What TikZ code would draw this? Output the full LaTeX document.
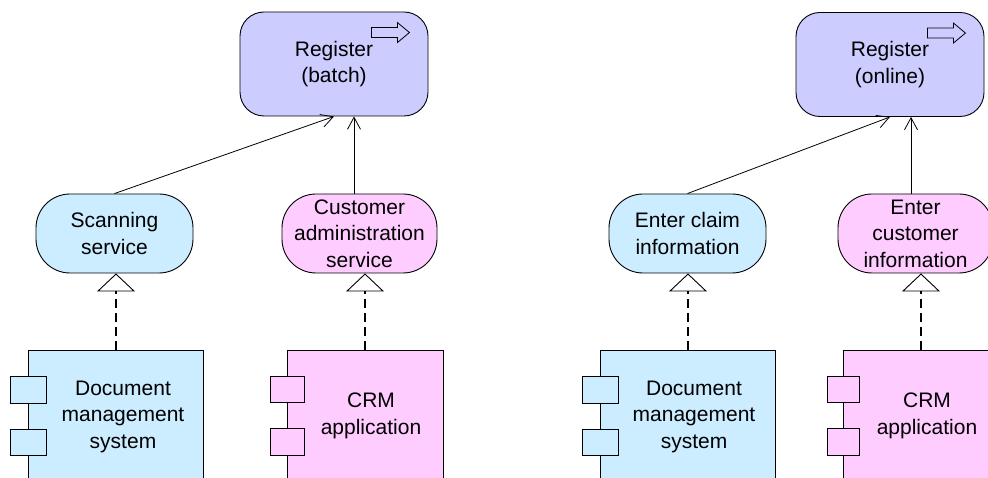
\documentclass[tikz,border=0pt]{standalone}
\usepackage{fontspec}
\setmainfont{Liberation Sans}
\usetikzlibrary{arrows.meta}
\definecolor{procfill}{HTML}{CCCCFF}
\definecolor{appblue}{HTML}{CCECFF}
\definecolor{apppink}{HTML}{FFCCFF}

\begin{document}
\begin{tikzpicture}[x=1pt,y=-1pt,
  every node/.style={font=\fontsize{21}{26.5}\selectfont, align=center, inner sep=0pt},
  process/.style={draw, line width=0.9pt, fill=procfill, rounded corners=24pt,
    minimum width=188pt, minimum height=104pt},
  service/.style={draw, line width=0.9pt, rounded corners=34pt,
    minimum width=157pt, minimum height=79pt},
  component/.style={draw, line width=0.9pt, minimum width=#1, minimum height=134pt},
  port/.style={draw, line width=0.9pt, minimum width=#1, minimum height=26.5pt},
  port/.default=36pt,
  used/.style={-{Straight Barb[length=12pt,width=13pt,line width=0.8pt]}, line width=0.8pt},
  realizes/.style={line width=1.8pt, dash pattern=on 9pt off 5pt,
    -{Triangle[length=18pt,width=38pt,line width=0.9pt,fill=white]}},
  procicon/.style={line width=0.8pt, line join=miter},
]
\useasboundingbox (0,0) rectangle (988,478);
\clip (0,0) rectangle (988,478);
\fill[white] (0,0) rectangle (988,478);

% business processes
\node[process] (reg1) at (334,64) {Register\\(batch)};
\node[process] (reg2) at (890,64.5) {Register\\(online)};
\foreach \r in {reg1,reg2}
  \draw[procicon, shift={(\r.north east)}]
    (-57,16) -- (-31,16) -- (-31,11) -- (-19,21) -- (-31,31) -- (-31,26) -- (-57,26) -- cycle;

% application services
\node[service, fill=appblue] (scan) at (114.5,233.5) {Scanning\\service};
\node[service, fill=apppink, minimum width=155pt] (cust) at (359.5,233.5) {Customer\\administration\\service};
\node[service, fill=appblue] (claim) at (687.5,233.5) {Enter claim\\information};
\node[service, fill=apppink, minimum width=155pt] (ecust) at (915.5,233.5) {Enter\\customer\\information};

% application components
\node[component=175pt, fill=appblue] (dms1) at (116,417) {};
\node[port, fill=appblue] (dms1a) at (28.5,390) {};
\node[port, fill=appblue] (dms1b) at (28.5,442.5) {};
\node (dms1t) at (123,416.5) {Document\\management\\system};

\node[component=156pt, fill=apppink] (crm1) at (365,417) {};
\node[port=34pt, fill=apppink] (crm1a) at (287,389.5) {};
\node[port=34pt, fill=apppink] (crm1b) at (287,442) {};
\node (crm1t) at (371,416) {CRM\\application};

\node[component=175pt, fill=appblue] (dms2) at (688,417) {};
\node[port, fill=appblue] (dms2a) at (600.5,390) {};
\node[port, fill=appblue] (dms2b) at (600.5,442.5) {};
\node (dms2t) at (694,416.5) {Document\\management\\system};

\node[component=156pt, fill=apppink] (crm2) at (921,417) {};
\node[port=32pt, fill=apppink] (crm2a) at (843,389.5) {};
\node[port=32pt, fill=apppink] (crm2b) at (843,442) {};
\node (crm2t) at (927,416) {CRM\\application};

% used-by relations
\draw[used] (scan.north) -- (reg1.south);
\draw[used] ([xshift=-5.5pt]cust.north) -- ([xshift=-5.5pt]cust.north |- reg1.south);
\draw[used] (claim.north) -- (reg2.south);
\draw[used] ([xshift=-4.5pt]ecust.north) -- ([xshift=-4.5pt]ecust.north |- reg2.south);

% realization relations
\draw[realizes] (dms1.north) -- (dms1.north |- scan.south);
\draw[realizes] (crm1.north) -- (crm1.north |- cust.south);
\draw[realizes] (dms2.north) -- (dms2.north |- claim.south);
\draw[realizes] (crm2.north) -- (crm2.north |- ecust.south);
\end{tikzpicture}
\end{document}
